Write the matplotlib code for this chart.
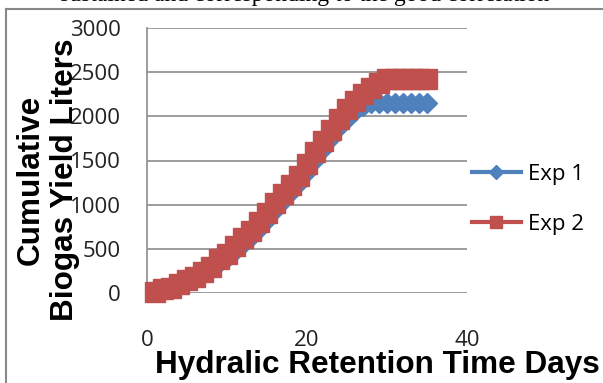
import matplotlib
matplotlib.use("Agg")
import matplotlib.pyplot as plt
from matplotlib.lines import Line2D

# data
days = list(range(1, 36))
exp1 = [10, 35, 52, 88, 132, 165, 215, 265, 340, 395, 475, 555, 630, 725, 830,
        935, 1040, 1140, 1240, 1370, 1510, 1630, 1755, 1875, 1975, 2060, 2120, 2150,
        2150, 2150, 2150, 2150, 2150, 2150, 2150]
exp2 = [11, 38, 57, 95, 144, 182, 238, 295, 379, 439, 530, 617, 700, 799, 908,
        1015, 1120, 1222, 1325, 1457, 1601, 1722, 1847, 1968, 2082, 2180, 2255, 2320,
        2384, 2422, 2422, 2422, 2422, 2422, 2422]
series_names = ["Exp 1", "Exp 2"]
yticks = [0, 500, 1000, 1500, 2000, 2500, 3000]
xticks = [0, 20, 40]

blue = "#4F81BD"
red = "#C0504D"
grid = "#8C8C8C"

W, H = 603, 383
fig = plt.figure(figsize=(W / 100, H / 100), dpi=100)
ax = fig.add_axes([147 / W, 1 - 292.7 / H, 320 / W, 264.4 / H])

ax.plot(days, exp1, color=blue, lw=2.5, marker="D", ms=10, mec=blue, mfc=blue,
        clip_on=False, zorder=3)
ax.plot(days, exp2, color=red, lw=2.5, marker="s", ms=14.5, mec=red, mfc=red,
        clip_on=False, zorder=4)

ax.set_xlim(0, 40)
ax.set_ylim(0, 3000)
ax.set_xticks(xticks)
ax.set_yticks(yticks)
ax.tick_params(length=0, labelsize=16, colors="#222222")
ax.tick_params(axis="y", pad=19)
ax.tick_params(axis="x", pad=27)
for lab in ax.get_xticklabels() + ax.get_yticklabels():
    lab.set_fontfamily("Open Sans")

ax.grid(axis="y", color=grid, lw=1.2)
ax.set_axisbelow(True)
for s in ["top", "right", "bottom"]:
    ax.spines[s].set_visible(False)
ax.spines["left"].set_color(grid)
ax.spines["left"].set_linewidth(1.2)

ax.set_xlabel("Hydralic Retention Time Days", fontsize=22.7, fontweight="bold",
              family="Liberation Sans", va="center")
ax.xaxis.set_label_coords((377 - 147) / 320, (292.7 - 365) / 264.4)
ax.set_ylabel("Cumulative\nBiogas Yield Liters", fontsize=22.7, fontweight="bold",
              family="Liberation Sans", va="center", ha="center", linespacing=1.2)
ax.yaxis.set_label_coords((48 - 147) / 320, (292.7 - 180) / 264.4)

handles = [Line2D([], [], color=blue, lw=3, marker="D", ms=7),
           Line2D([], [], color=red, lw=3, marker="s", ms=9)]
leg = fig.legend(handles, series_names, loc="upper left",
                 bbox_to_anchor=(452 / W, 1 - 144 / H), frameon=False,
                 prop={"family": "Open Sans", "size": 16}, handlelength=2.2,
                 handletextpad=0.3, labelspacing=1.3)

# chart frame and the clipped line of document text above it
fig.add_artist(Line2D([5.5 / W, 5.5 / W], [0, 1 - 8.5 / H], color="#888888", lw=1.5))
fig.add_artist(Line2D([5.5 / W, 1], [1 - 8.5 / H, 1 - 8.5 / H], color="#888888", lw=1.5))
fig.text(60 / W, 1 - 1 / H, "sustained and corresponding to the good correlation",
         family="Liberation Serif", fontsize=17, va="baseline", ha="left")

fig.savefig("out.png", dpi=100)
